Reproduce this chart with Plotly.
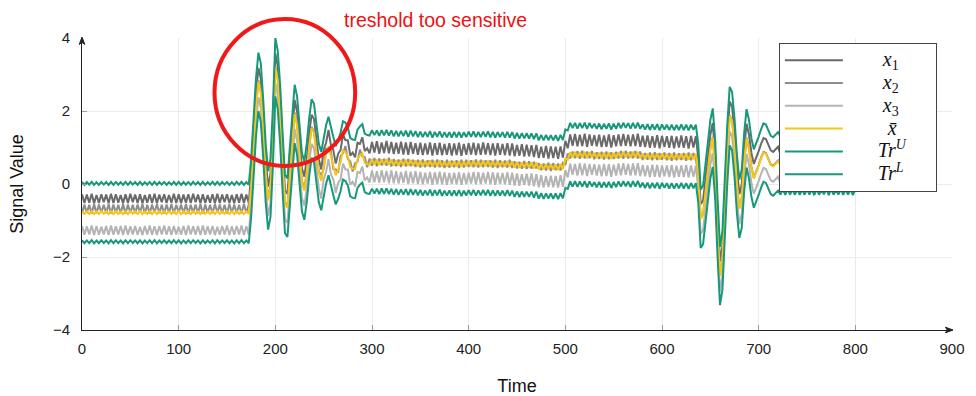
import plotly.graph_objects as go

# ---------------- data ----------------
SAMPLE_STEP = 2.5  # time between samples

# x1: darkest gray signal
x1 = [
    # t = 0 .. 172.5 (quiet)
    -0.28, -0.52, -0.29, -0.51, -0.27, -0.53, -0.30, -0.52, -0.28, -0.50,
    -0.29, -0.53, -0.27, -0.52, -0.28, -0.51, -0.30, -0.53, -0.28, -0.52,
    -0.27, -0.50, -0.29, -0.52, -0.28, -0.53, -0.30, -0.51, -0.28, -0.52,
    -0.27, -0.53, -0.29, -0.50, -0.28, -0.52, -0.30, -0.51, -0.27, -0.52,
    -0.28, -0.53, -0.29, -0.51, -0.28, -0.52, -0.27, -0.50, -0.29, -0.53,
    -0.28, -0.52, -0.30, -0.51, -0.28, -0.53, -0.27, -0.52, -0.29, -0.50,
    -0.28, -0.52, -0.30, -0.53, -0.28, -0.51, -0.27, -0.52, -0.29, -0.52,
    # t = 175 .. 295 (first disturbance)
    0.28, 1.48, 2.48, 3.18, 2.88, 1.88, 0.68, -0.07, 0.28, 1.68,
    3.58, 3.23, 2.28, 0.98, -0.17, -0.27, 0.58, 1.68, 2.30, 1.98,
    1.23, 0.43, 0.20, 0.68, 1.38, 1.90, 1.78, 1.23, 0.68,
    0.40, 0.93, 1.13, 1.48, 1.06, 0.93, 0.56, 0.83, 0.93, 1.36,
    1.20, 1.20, 0.78, 0.86, 0.73, 1.13, 1.10, 1.28, 0.90, 0.98,
    # t = 297.5 .. 497.5
    0.84, 1.15, 0.86, 1.17, 0.83, 1.14, 0.85, 1.18, 0.84, 1.15,
    0.82, 1.13, 0.83, 1.16, 0.81, 1.14, 0.80, 1.15, 0.83, 1.12,
    0.80, 1.13, 0.79, 1.11, 0.81, 1.14, 0.78, 1.12, 0.80, 1.13,
    0.79, 1.10, 0.80, 1.12, 0.78, 1.11, 0.79, 1.13, 0.77, 1.10,
    0.80, 1.12, 0.81, 1.13, 0.79, 1.11, 0.80, 1.14, 0.81, 1.12,
    0.79, 1.11, 0.78, 1.12, 0.80, 1.10, 0.79, 1.12, 0.78, 1.11,
    0.76, 1.07, 0.77, 1.09, 0.75, 1.08, 0.76, 1.06, 0.74, 1.07,
    0.71, 1.02, 0.72, 1.04, 0.70, 1.03, 0.71, 1.02, 0.69, 1.03, 0.72,
    # t = 500 .. 635
    1.18, 0.98,
    1.36, 1.05, 1.37, 1.03, 1.35, 1.04, 1.38, 1.02, 1.36, 1.05,
    1.34, 1.03, 1.35, 1.01, 1.33, 1.02, 1.36, 1.00, 1.34, 1.03,
    1.36, 1.04, 1.37, 1.05, 1.35, 1.03, 1.36, 1.04, 1.38, 1.02,
    1.32, 1.01, 1.33, 0.99, 1.31, 1.00, 1.34, 0.98, 1.32, 1.01,
    1.31, 0.99, 1.32, 0.98, 1.30, 1.00, 1.33, 0.99, 1.31, 0.97, 1.32, 1.00, 1.31,
    # t = 637.5 .. 720 (second disturbance)
    0.70, -0.55, -0.45, 0.10, 0.75, 1.35, 1.67, 0.80, -0.80, -2.12,
    -1.70, -0.20, 1.20, 2.26, 2.12, 1.40, 0.40, -0.28, 0.00, 1.00,
    1.65, 1.35, 0.85, 0.55, 0.70, 0.90, 1.10, 1.26, 1.23, 1.05,
    0.92, 0.88, 0.96, 1.02,
    # t = 722.5 .. 800
    0.82, 1.13, 0.83, 1.15, 0.81, 1.14, 0.82, 1.12, 0.83, 1.14,
    0.81, 1.15, 0.82, 1.13, 0.80, 1.14, 0.82, 1.13, 0.83, 1.15,
    0.81, 1.14, 0.82, 1.12, 0.83, 1.14, 0.81, 1.13, 0.82, 1.15,
    0.80, 1.14,
]

# x2: middle gray signal
x2 = [
    -0.80, -0.56, -0.79, -0.57, -0.81, -0.55, -0.80, -0.56, -0.78, -0.57,
    -0.80, -0.55, -0.81, -0.56, -0.79, -0.57, -0.80, -0.55, -0.81, -0.56,
    -0.79, -0.57, -0.80, -0.56, -0.78, -0.55, -0.80, -0.57, -0.81, -0.56,
    -0.79, -0.55, -0.80, -0.57, -0.81, -0.56, -0.79, -0.55, -0.80, -0.57,
    -0.78, -0.56, -0.80, -0.55, -0.81, -0.57, -0.79, -0.56, -0.80, -0.55,
    -0.81, -0.56, -0.79, -0.57, -0.80, -0.55, -0.78, -0.56, -0.80, -0.57,
    -0.81, -0.55, -0.79, -0.56, -0.80, -0.57, -0.81, -0.55, -0.79, -0.56,
    -0.06, 1.14, 2.14, 2.84, 2.54, 1.54, 0.34, -0.41, -0.06, 1.34,
    3.24, 2.89, 1.94, 0.64, -0.51, -0.61, 0.24, 1.34, 1.96, 1.64,
    0.89, 0.09, -0.14, 0.34, 1.04, 1.56, 1.44, 0.89, 0.34,
    0.24, 0.41, 0.97, 0.96, 0.90, 0.41, 0.40, 0.31, 0.77, 0.84,
    1.04, 0.68, 0.62, 0.34, 0.57, 0.61, 0.94, 0.76, 0.74, 0.46,
    0.70, 0.50, 0.71, 0.49, 0.70, 0.51, 0.69, 0.50, 0.72, 0.48,
    0.68, 0.49, 0.67, 0.47, 0.69, 0.48, 0.68, 0.49, 0.66, 0.47,
    0.66, 0.45, 0.67, 0.46, 0.65, 0.47, 0.66, 0.45, 0.67, 0.46,
    0.65, 0.44, 0.66, 0.45, 0.64, 0.46, 0.65, 0.44, 0.66, 0.45,
    0.66, 0.47, 0.65, 0.46, 0.67, 0.45, 0.66, 0.46, 0.65, 0.47,
    0.65, 0.45, 0.66, 0.44, 0.65, 0.46, 0.64, 0.45, 0.66, 0.44,
    0.62, 0.43, 0.61, 0.42, 0.63, 0.41, 0.62, 0.42, 0.61, 0.43,
    0.57, 0.38, 0.56, 0.37, 0.58, 0.36, 0.57, 0.38, 0.56, 0.37, 0.58,
    0.52, 0.84,
    0.70, 0.89, 0.71, 0.90, 0.69, 0.91, 0.70, 0.89, 0.71, 0.90,
    0.68, 0.87, 0.69, 0.88, 0.67, 0.89, 0.68, 0.87, 0.69, 0.88,
    0.70, 0.90, 0.69, 0.91, 0.70, 0.89, 0.71, 0.90, 0.70, 0.89,
    0.66, 0.85, 0.67, 0.86, 0.65, 0.87, 0.66, 0.85, 0.67, 0.86,
    0.65, 0.85, 0.64, 0.86, 0.65, 0.84, 0.66, 0.85, 0.64, 0.86, 0.65, 0.85, 0.66,
    0.32, -0.93, -0.83, -0.28, 0.37, 0.97, 1.29, 0.42, -1.18, -2.50,
    -2.08, -0.58, 0.82, 1.88, 1.74, 1.02, 0.02, -0.66, -0.38, 0.62,
    1.27, 0.97, 0.47, 0.17, 0.32, 0.52, 0.72, 0.88, 0.85, 0.67,
    0.54, 0.50, 0.58, 0.64,
    0.68, 0.49, 0.67, 0.48, 0.69, 0.47, 0.68, 0.49, 0.67, 0.48,
    0.69, 0.47, 0.68, 0.49, 0.67, 0.48, 0.68, 0.47, 0.69, 0.48,
    0.67, 0.49, 0.68, 0.48, 0.67, 0.49, 0.68, 0.47, 0.69, 0.48,
    0.67, 0.48,
]

# x3: lightest gray signal
x3 = [
    -1.15, -1.39, -1.16, -1.38, -1.14, -1.40, -1.15, -1.39, -1.17, -1.38,
    -1.15, -1.40, -1.14, -1.39, -1.16, -1.38, -1.15, -1.40, -1.14, -1.39,
    -1.16, -1.38, -1.15, -1.39, -1.17, -1.40, -1.15, -1.38, -1.14, -1.39,
    -1.16, -1.40, -1.15, -1.38, -1.14, -1.39, -1.16, -1.40, -1.15, -1.38,
    -1.17, -1.39, -1.15, -1.40, -1.14, -1.38, -1.16, -1.39, -1.15, -1.40,
    -1.14, -1.39, -1.16, -1.38, -1.15, -1.40, -1.17, -1.39, -1.15, -1.38,
    -1.14, -1.40, -1.16, -1.39, -1.15, -1.38, -1.14, -1.40, -1.16, -1.39,
    -0.52, 0.68, 1.68, 2.38, 2.08, 1.08, -0.12, -0.87, -0.52, 0.88,
    2.78, 2.43, 1.48, 0.18, -0.97, -1.07, -0.22, 0.88, 1.50, 1.18,
    0.43, -0.37, -0.60, -0.12, 0.58, 1.10, 0.98, 0.43, -0.12,
    -0.40, 0.13, 0.33, 0.68, 0.26, 0.13, -0.24, 0.03, 0.13, 0.56,
    0.40, 0.40, -0.02, 0.06, -0.07, 0.33, 0.30, 0.48, 0.10, 0.18,
    0.04, 0.37, 0.05, 0.35, 0.03, 0.38, 0.05, 0.36, 0.02, 0.37,
    0.02, 0.35, 0.01, 0.33, 0.03, 0.36, 0.00, 0.34, 0.02, 0.35,
    0.00, 0.33, -0.01, 0.31, 0.01, 0.33, -0.02, 0.32, 0.00, 0.34,
    -0.01, 0.32, -0.02, 0.30, 0.00, 0.31, -0.01, 0.32, -0.02, 0.30,
    0.00, 0.31, 0.01, 0.33, -0.01, 0.32, 0.00, 0.31, 0.01, 0.33,
    -0.01, 0.32, -0.02, 0.31, 0.00, 0.30, -0.01, 0.32, -0.02, 0.31,
    -0.04, 0.29, -0.05, 0.27, -0.03, 0.28, -0.04, 0.29, -0.06, 0.27,
    -0.09, 0.24, -0.10, 0.22, -0.08, 0.23, -0.09, 0.22, -0.10, 0.24, -0.08,
    0.38, 0.18,
    0.56, 0.25, 0.55, 0.23, 0.57, 0.24, 0.56, 0.22, 0.55, 0.25,
    0.54, 0.23, 0.53, 0.21, 0.55, 0.22, 0.54, 0.20, 0.53, 0.23,
    0.56, 0.24, 0.57, 0.25, 0.55, 0.23, 0.56, 0.24, 0.57, 0.22,
    0.52, 0.21, 0.51, 0.19, 0.53, 0.20, 0.52, 0.18, 0.51, 0.21,
    0.51, 0.19, 0.52, 0.18, 0.50, 0.20, 0.51, 0.19, 0.52, 0.18, 0.51, 0.20, 0.50,
    -0.12, -1.37, -1.27, -0.72, -0.07, 0.53, 0.85, -0.02, -1.62, -2.94,
    -2.52, -1.02, 0.38, 1.44, 1.30, 0.58, -0.42, -1.10, -0.82, 0.18,
    0.83, 0.53, 0.03, -0.27, -0.12, 0.08, 0.28, 0.44, 0.41, 0.23,
    0.10, 0.06, 0.14, 0.20,
    0.02, 0.35, 0.01, 0.33, 0.03, 0.34, 0.02, 0.35, 0.01, 0.33,
    0.02, 0.34, 0.03, 0.35, 0.01, 0.34, 0.02, 0.33, 0.03, 0.35,
    0.01, 0.34, 0.02, 0.33, 0.03, 0.35, 0.01, 0.34, 0.02, 0.33,
    0.01, 0.34,
]

THRESHOLD = 0.8  # half-width of the threshold band around the mean

x_ticks = [0, 100, 200, 300, 400, 500, 600, 700, 800, 900]
y_ticks = [-4, -2, 0, 2, 4]

series_labels = [
    "<i>x</i><sub>1</sub>",
    "<i>x</i><sub>2</sub>",
    "<i>x</i><sub>3</sub>",
    "<i>x\u0304</i>",
    "<i>Tr</i><sup><i>U</i></sup>",
    "<i>Tr</i><sup><i>L</i></sup>",
]
label_pad = [7, 7, 7, 8, 6, 6]  # leading spaces so labels sit centred in the box
series_colors = ["#6a6a6a", "#8e8e8e", "#b4b4b4", "#f5c518", "#18987a", "#18987a"]

# ---------------- derived series ----------------
assert len(x1) == len(x2) == len(x3)
time = [i * SAMPLE_STEP for i in range(len(x1))]
xbar = [(a + b + c) / 3.0 for a, b, c in zip(x1, x2, x3)]
tr_upper = [m + THRESHOLD for m in xbar]
tr_lower = [m - THRESHOLD for m in xbar]
all_series = [x1, x2, x3, xbar, tr_upper, tr_lower]

NB = "\u00a0"
fig = go.Figure()
for ys, lab, pad, col in zip(all_series, series_labels, label_pad, series_colors):
    name = ('<span style="font-size:20px">' + NB * pad + lab + NB * 5 + "</span>")
    fig.add_trace(go.Scatter(
        x=time, y=ys, mode="lines", name=name,
        line=dict(color=col, width=2),
        hoverinfo="skip",
    ))

sans = "Liberation Sans, Arial, Helvetica, sans-serif"

fig.update_layout(
    width=976, height=396,
    margin=dict(l=82, r=24, t=38, b=66),
    paper_bgcolor="white", plot_bgcolor="white",
    font=dict(family=sans, size=15, color="#222"),
    showlegend=True,
    legend=dict(
        x=0.801, y=0.983, xanchor="left", yanchor="top",
        bgcolor="white", bordercolor="#444", borderwidth=1,
        font=dict(family="Liberation Serif, DejaVu Serif, serif", size=15.2, color="#111"),
        itemwidth=58,
        traceorder="normal",
    ),
    xaxis=dict(
        range=[0, 900], tickvals=x_ticks, automargin=False,
        showgrid=True, gridcolor="#ebebeb", gridwidth=1,
        zeroline=False, showline=True, linecolor="#222", linewidth=1,
        ticks="inside", ticklen=5, tickcolor="#999", ticklabelstandoff=5,
        tickfont=dict(size=15, color="#222"),
        title=dict(text="Time", font=dict(size=18, color="#111"), standoff=29),
    ),
    yaxis=dict(
        range=[-4, 4], tickvals=y_ticks, automargin=False,
        showgrid=True, gridcolor="#ebebeb", gridwidth=1,
        zeroline=False, showline=True, linecolor="#222", linewidth=1,
        ticks="inside", ticklen=5, tickcolor="#999", ticklabelstandoff=8,
        tickfont=dict(size=15, color="#222"),
        title=dict(text="Signal Value", font=dict(size=18, color="#111"), standoff=24),
    ),
)

# axis arrow heads (small filled triangles at the axis ends, paper coordinates)
fig.add_shape(type="path", xref="paper", yref="paper",
              path="M 0.9925,0.0095 L 1.0012,0 L 0.9925,-0.0095 L 0.9945,0 Z",
              fillcolor="#222", line=dict(color="#222", width=1), layer="above")
fig.add_shape(type="path", xref="paper", yref="paper",
              path="M -0.0032,0.978 L 0,1.003 L 0.0032,0.978 L 0,0.985 Z",
              fillcolor="#222", line=dict(color="#222", width=1), layer="above")

# red highlight circle and note
fig.add_shape(type="circle", xref="paper", yref="paper",
              x0=0.1523, x1=0.3140, y0=0.562, y1=1.0650,
              line=dict(color="#f01818", width=4), layer="above")
fig.add_annotation(x=0.4063, y=1.0616, xref="paper", yref="paper",
                   text="treshold too sensitive",
                   showarrow=False, font=dict(family=sans, size=19.5, color="#ee1111"),
                   xanchor="center", yanchor="middle")

# the page is shown edge to edge, so drop the browser's default body margin
fig.write_html("out.html", config={"displayModeBar": False},
               post_script="document.body.style.margin='0px';")
